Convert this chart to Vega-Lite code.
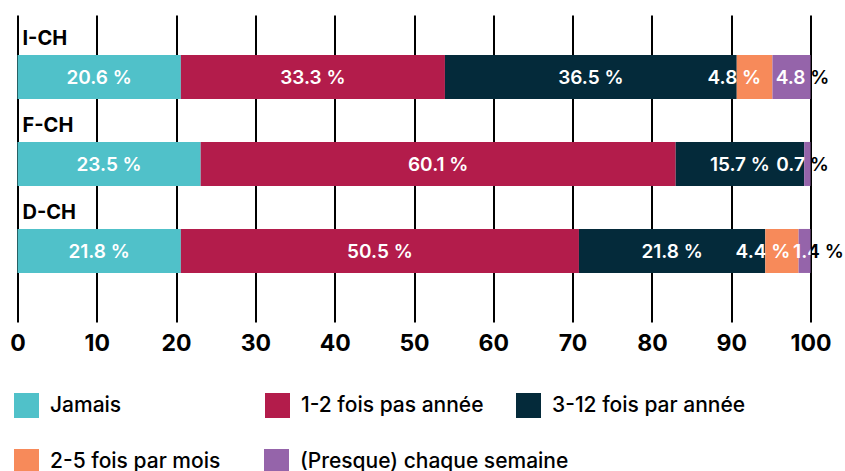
{
  "$schema": "https://vega.github.io/schema/vega-lite/v6.json",
  "width": 793,
  "height": 307,
  "autosize": {"type": "none"},
  "padding": {"left": 17.5, "top": 15, "right": 34.5, "bottom": 149},
  "background": "white",
  "view": {"stroke": null, "fill": "white"},
  "config": {
    "font": "Inter",
    "axis": {
      "grid": true,
      "gridColor": "black",
      "gridWidth": 2,
      "gridOpacity": 1,
      "ticks": false,
      "domain": false,
      "labelFont": "Inter",
      "labelFontSize": 23,
      "labelFontWeight": "bold",
      "labelColor": "black",
      "labelPadding": 10,
      "labelFlush": false,
      "labelOverlap": false,
      "title": null
    },
    "legend": {
      "symbolType": "square",
      "symbolSize": 625,
      "symbolStrokeWidth": 0,
      "labelOffset": 11,
      "labelFont": "Inter",
      "labelFontSize": 21,
      "labelFontWeight": 500,
      "labelColor": "black",
      "padding": 0,
      "labelLimit": 400
    }
  },
  "data": {
    "values": [
      {"region": "I-CH", "category": "Jamais", "rank": 1, "value": 20.6, "pct": 20.6},
      {"region": "I-CH", "category": "1-2 fois pas année", "rank": 2, "value": 33.3, "pct": 33.3},
      {"region": "I-CH", "category": "3-12 fois par année", "rank": 3, "value": 36.8, "pct": 36.5},
      {"region": "I-CH", "category": "2-5 fois par mois", "rank": 4, "value": 4.5, "pct": 4.8},
      {"region": "I-CH", "category": "(Presque) chaque semaine", "rank": 5, "value": 4.8, "pct": 4.8},
      {"region": "F-CH", "category": "Jamais", "rank": 1, "value": 23.1, "pct": 23.5},
      {"region": "F-CH", "category": "1-2 fois pas année", "rank": 2, "value": 59.9, "pct": 60.1},
      {"region": "F-CH", "category": "3-12 fois par année", "rank": 3, "value": 16.2, "pct": 15.7},
      {"region": "F-CH", "category": "(Presque) chaque semaine", "rank": 5, "value": 0.8, "pct": 0.7},
      {"region": "D-CH", "category": "Jamais", "rank": 1, "value": 20.6, "pct": 21.8},
      {"region": "D-CH", "category": "1-2 fois pas année", "rank": 2, "value": 50.2, "pct": 50.5},
      {"region": "D-CH", "category": "3-12 fois par année", "rank": 3, "value": 23.5, "pct": 21.8},
      {"region": "D-CH", "category": "2-5 fois par mois", "rank": 4, "value": 4.2, "pct": 4.4},
      {"region": "D-CH", "category": "(Presque) chaque semaine", "rank": 5, "value": 1.5, "pct": 1.4}
    ]
  },
  "transform": [
    {"stack": "value", "groupby": ["region"], "sort": [{"field": "rank", "order": "ascending"}], "as": ["v0", "v1"]},
    {"calculate": "datum.rank == 4 ? datum.v0 - 0.3 : (datum.v0 + datum.v1) / 2", "as": "lx0"},
    {"window": [{"op": "lag", "field": "lx0", "as": "prevx"}], "groupby": ["region"], "sort": [{"field": "rank", "order": "ascending"}]},
    {"calculate": "datum.rank == 5 ? max(datum.v1 - 1, datum.prevx + 7.0) : datum.lx0", "as": "lx"},
    {"calculate": "format(datum.pct, '.1f') + ' %'", "as": "lbl"}
  ],
  "encoding": {
    "y": {
      "field": "region",
      "type": "nominal",
      "sort": ["I-CH", "F-CH", "D-CH"],
      "axis": null,
      "scale": {"paddingInner": 0.4943, "paddingOuter": 0.5115, "align": 0.449}
    }
  },
  "layer": [
    {
      "mark": {"type": "text", "color": "black", "font": "Inter", "fontSize": 19, "fontWeight": 600, "baseline": "alphabetic", "dy": 7},
      "encoding": {
        "x": {"field": "lx", "type": "quantitative"},
        "text": {"field": "lbl"}
      }
    },
    {
      "transform": [{"filter": "datum.rank <= 3"}],
      "mark": {"type": "bar"},
      "encoding": {
        "x": {
          "field": "v0",
          "type": "quantitative",
          "scale": {"domain": [0, 100], "nice": false, "zero": true},
          "axis": {"values": [0, 10, 20, 30, 40, 50, 60, 70, 80, 90, 100]}
        },
        "x2": {"field": "v1"},
        "color": {
          "field": "category",
          "type": "nominal",
          "scale": {
            "domain": ["Jamais", "1-2 fois pas année", "3-12 fois par année"],
            "range": ["#50c1c9", "#b31c4b", "#042a3a"]
          },
          "legend": {
            "orient": "none",
            "legendX": -3.5,
            "legendY": 378,
            "direction": "horizontal",
            "columns": 3,
            "gridAlign": "all",
            "columnPadding": 21,
            "title": null
          }
        }
      }
    },
    {
      "transform": [{"filter": "datum.rank > 3"}],
      "mark": {"type": "bar"},
      "encoding": {
        "x": {"field": "v0", "type": "quantitative"},
        "x2": {"field": "v1"},
        "color": {
          "field": "category",
          "type": "nominal",
          "scale": {
            "domain": ["2-5 fois par mois", "(Presque) chaque semaine"],
            "range": ["#f78a5a", "#9564aa"]
          },
          "legend": {
            "orient": "none",
            "legendX": -3.5,
            "legendY": 434,
            "direction": "horizontal",
            "columns": 2,
            "gridAlign": "each",
            "columnPadding": 43,
            "title": null
          }
        }
      }
    },
    {
      "mark": {"type": "text", "color": "white", "clip": true, "font": "Inter", "fontSize": 19, "fontWeight": 600, "baseline": "alphabetic", "dy": 7},
      "encoding": {
        "x": {"field": "lx", "type": "quantitative"},
        "text": {"field": "lbl"}
      }
    },
    {
      "transform": [{"filter": "datum.rank == 1"}],
      "mark": {"type": "text", "color": "black", "align": "left", "baseline": "alphabetic", "dx": 5, "dy": -32, "font": "Inter", "fontSize": 20, "fontWeight": "bold"},
      "encoding": {
        "x": {"datum": 0},
        "text": {"field": "region"}
      }
    }
  ],
  "resolve": {"scale": {"color": "independent"}, "legend": {"color": "independent"}}
}
